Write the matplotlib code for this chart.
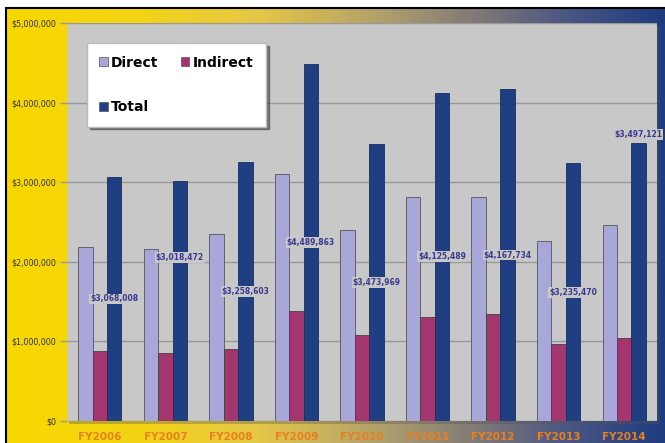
import numpy as np
import matplotlib
matplotlib.use('Agg')
import matplotlib.pyplot as plt
from matplotlib.colors import LinearSegmentedColormap
from matplotlib.patches import Patch
from matplotlib.ticker import FuncFormatter

# ---------------------------------------------------------------
# data
# ---------------------------------------------------------------
years = ['FY2006', 'FY2007', 'FY2008', 'FY2009', 'FY2010',
         'FY2011', 'FY2012', 'FY2013', 'FY2014']
direct = [2190000, 2165000, 2350000, 3105000, 2395000,
          2815000, 2820000, 2265000, 2460000]
indirect = [880000, 855000, 910000, 1385000, 1080000,
            1310000, 1350000, 970000, 1040000]
total = [3068008, 3018472, 3258603, 4489863, 3473969,
         4125489, 4167734, 3235470, 3497121]
yticks = [0, 1000000, 2000000, 3000000, 4000000, 5000000]

# label height overrides (default: middle of the Total bar)
label_pos = {'FY2007': 0.68, 'FY2014': 1.03}

c_direct = '#A9A7D9'
c_indirect = '#A3356F'
c_total = '#1F3F82'
c_plot = '#C8C8C8'

fig = plt.figure(figsize=(6.65, 4.43), dpi=100)
fig.patch.set_facecolor('white')

# gradient background (yellow -> dark blue)
bg = fig.add_axes([6/665, 0, 659/665, 435/443])
cmap = LinearSegmentedColormap.from_list('bg', [
    (0.00, '#F8D800'), (0.20, '#F3D415'), (0.38, '#E6C748'),
    (0.58, '#AE9D6E'), (0.72, '#7E7877'), (0.85, '#4C5784'),
    (1.00, '#1E3C80')])
bg.imshow(np.linspace(0, 1, 400).reshape(1, -1), aspect='auto', cmap=cmap,
          extent=[0, 1, 0, 1])
bg.set_xlim(0, 1)
bg.set_ylim(0, 1)
bg.axis('off')
# plot area shadow (kept inside the background axes so it stays underneath)
bg.add_patch(plt.Rectangle((69/665, 19/443), 591/665, 398/443,
                           transform=fig.transFigure, facecolor='#555555',
                           alpha=0.35, edgecolor='none'))

# black frame lines top / left
bg.add_line(plt.Line2D([6/665, 1], [435/443, 435/443], color='black', lw=1.5,
                       transform=fig.transFigure, clip_on=False))
bg.add_line(plt.Line2D([6/665, 6/665], [0, 435/443], color='black', lw=1.5,
                       transform=fig.transFigure, clip_on=False))

ax = fig.add_axes([67/665, 22/443, 590/665, 398/443])
ax.set_facecolor(c_plot)

x = np.arange(len(years))
w = 0.22
ax.bar(x - w, direct, w, color=c_direct, edgecolor='#555555', lw=0.6, zorder=3)
ax.bar(x, indirect, w, color=c_indirect, edgecolor='#444444', lw=0.6, zorder=3)
ax.bar(x + w, total, w, color=c_total, edgecolor='#1A2F60', lw=0.6, zorder=3)

for i, t in enumerate(total):
    frac = label_pos.get(years[i], 0.5)
    ax.text(x[i] + w, t * frac, f'${t:,.0f}', ha='center', va='center',
            fontsize=5.5, fontweight='bold', color='#3B3A8F', zorder=5,
            bbox=dict(facecolor=c_plot, edgecolor='none', pad=0.6))

ax.set_xlim(-0.5, len(years) - 0.5)
ax.set_ylim(0, 5000000)
ax.set_yticks(yticks)
ax.yaxis.set_major_formatter(FuncFormatter(lambda v, p: f'${v:,.0f}'))
ax.grid(axis='y', color='#999999', lw=1.0, zorder=0)
ax.tick_params(axis='y', length=5, color='#999999', width=1.0,
               labelsize=5.8, labelcolor='#333333', pad=3)
ax.set_xticks(x)
ax.set_xticklabels(years, fontsize=7.5, fontweight='bold', color='#E8801E')
ax.tick_params(axis='x', length=0, pad=8)
for s in ax.spines.values():
    s.set_visible(False)

handles = [Patch(facecolor=c_direct, edgecolor='#555555', lw=0.5),
           Patch(facecolor=c_total, edgecolor='#555555', lw=0.5),
           Patch(facecolor=c_indirect, edgecolor='#555555', lw=0.5)]
labels = ['Direct', 'Total', 'Indirect']
leg = ax.legend(handles, labels, ncol=2, loc='upper left',
                bbox_to_anchor=(0.022, 0.967), frameon=True, fancybox=False,
                shadow={'color': '#444444', 'alpha': 0.6}, edgecolor='#BBBBBB',
                framealpha=1, handlelength=0.6, handleheight=0.6,
                handletextpad=0.25, labelspacing=2.2, columnspacing=1.6,
                borderpad=0.9, prop={'weight': 'bold', 'size': 10})

fig.savefig('out.png', dpi=100)
